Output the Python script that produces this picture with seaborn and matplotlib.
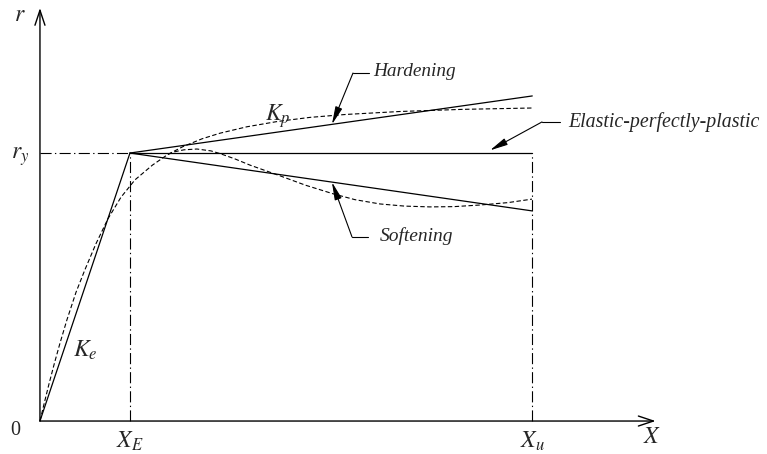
import matplotlib
matplotlib.use("Agg")
import matplotlib.pyplot as plt
import seaborn as sns

sns.set_theme(style="white")
plt.rcParams["font.family"] = ["Liberation Serif", "DejaVu Serif"]
plt.rcParams["mathtext.fontset"] = "stix"

# Characteristic points (X normalised by X_E, r normalised by r_y)
x_e = 1.0
x_u = 5.47
r_y = 1.0
r_hard_end = 1.213
r_soft_end = 0.784

# Smooth hardening response (dashed)
hard_curve_x = [0.0, 0.05, 0.1, 0.16, 0.222, 0.3, 0.4, 0.5, 0.62, 0.756, 0.9, 1.056,
                1.25, 1.422, 1.589, 1.8, 2.0, 2.3, 2.644, 3.0, 3.4, 4.0, 4.7, 5.467]
hard_curve_r = [0.0, 0.07, 0.138, 0.215, 0.29, 0.378, 0.48, 0.565, 0.66, 0.755, 0.835,
                0.90, 0.955, 0.995, 1.024, 1.053, 1.074, 1.098, 1.118, 1.133, 1.144,
                1.155, 1.163, 1.168]

# Smooth softening response (dashed), branching at the yield level
soft_curve_x = [1.422, 1.5, 1.6, 1.744, 1.9, 2.0, 2.167, 2.333, 2.5, 2.667, 2.95,
                3.256, 3.5, 3.778, 4.05, 4.333, 4.6, 4.889, 5.2, 5.467]
soft_curve_r = [0.995, 1.005, 1.012, 1.015, 1.008, 0.998, 0.978, 0.955, 0.935, 0.915,
                0.88, 0.848, 0.826, 0.810, 0.802, 0.799, 0.800, 0.806, 0.815, 0.828]

# Axis extents (arrow tips)
x_axis_end = 6.84
r_axis_end = 1.541

fig = plt.figure(figsize=(7.67, 4.54), dpi=100)
ax = fig.add_axes([0, 0, 1, 1])
ax.set_xlim(-0.444, 8.078)
ax.set_ylim(-0.123, 1.571)
ax.axis("off")

k = "black"
lw = 0.9
dashdot = (0, (10, 3, 1.2, 3))
dashed = (0, (4, 2.2))

# Bilinear models
sns.lineplot(x=[0, x_e], y=[0, r_y], color=k, lw=lw, ax=ax, sort=False)
sns.lineplot(x=[x_e, x_u], y=[r_y, r_y], color=k, lw=lw, ax=ax, sort=False)
sns.lineplot(x=[x_e, x_u], y=[r_y, r_hard_end], color=k, lw=lw, ax=ax, sort=False)
sns.lineplot(x=[x_e, x_u], y=[r_y, r_soft_end], color=k, lw=lw, ax=ax, sort=False)

# Smooth curves
sns.lineplot(x=hard_curve_x, y=hard_curve_r, color=k, lw=0.8, ax=ax, sort=False,
             linestyle=dashed)
sns.lineplot(x=soft_curve_x, y=soft_curve_r, color=k, lw=0.8, ax=ax, sort=False,
             linestyle=dashed)

# Reference lines
ax.plot([0, x_e], [r_y, r_y], color=k, lw=0.8, linestyle=dashdot)
ax.plot([x_e, x_e], [0, r_y], color=k, lw=0.8, linestyle=dashdot)
ax.plot([x_u, x_u], [0, r_y], color=k, lw=0.8, linestyle=dashdot)

# Axes with open arrow heads
arrow_ax = dict(arrowstyle="->,head_length=0.9,head_width=0.3", color=k, lw=1.0,
                shrinkA=0, shrinkB=0)
ax.annotate("", xy=(x_axis_end, 0), xytext=(0, 0), arrowprops=arrow_ax)
ax.annotate("", xy=(0, r_axis_end), xytext=(0, 0), arrowprops=arrow_ax)

# Axis labels
ms = 17
ax.text(-0.222, 1.515, r"$r$", fontsize=ms, ha="center", va="center")
ax.text(-0.222, 0.985, r"$r_y$", fontsize=ms, ha="center", va="center")
ax.text(-0.278, -0.034, "0", fontsize=14.5, ha="center", va="center")
ax.text(x_e, -0.075, r"$X_E$", fontsize=ms, ha="center", va="center")
ax.text(x_u, -0.075, r"$X_u$", fontsize=ms, ha="center", va="center")
ax.text(6.8, -0.063, r"$X$", fontsize=ms, ha="center", va="center")
ax.text(0.5, 0.265, r"$K_e$", fontsize=ms, ha="center", va="center")
ax.text(2.64, 1.136, r"$K_p$", fontsize=ms, ha="center", va="center")

# Leader annotations
arrow_lead = dict(arrowstyle="-|>,head_length=0.9,head_width=0.18", color=k, lw=0.8,
                  shrinkA=0, shrinkB=0)


def leader(text, tip, knee, knee_end, text_x, text_y, fs):
    ax.annotate("", xy=tip, xytext=knee, arrowprops=arrow_lead)
    ax.plot([knee[0], knee_end], [knee[1], knee[1]], color=k, lw=0.8)
    ax.text(text_x, text_y, text, fontsize=fs, style="italic", ha="left", va="center")


tip_h_x = 3.244
tip_h = (tip_h_x, r_y + (r_hard_end - r_y) * (tip_h_x - x_e) / (x_u - x_e))
leader("Hardening", tip_h, (3.478, 1.2985), 3.656, 3.70, 1.305, 13.9)

tip_s_x = 3.244
tip_s = (tip_s_x, r_y + (r_soft_end - r_y) * (tip_s_x - x_e) / (x_u - x_e))
leader("Softening", tip_s, (3.467, 0.687), 3.644, 3.78, 0.690, 14.0)

leader("Elastic-perfectly-plastic", (5.0, r_y + 0.01), (5.578, 1.116), 5.778,
       5.87, 1.116, 14.3)

fig.savefig("out.png", dpi=100)
